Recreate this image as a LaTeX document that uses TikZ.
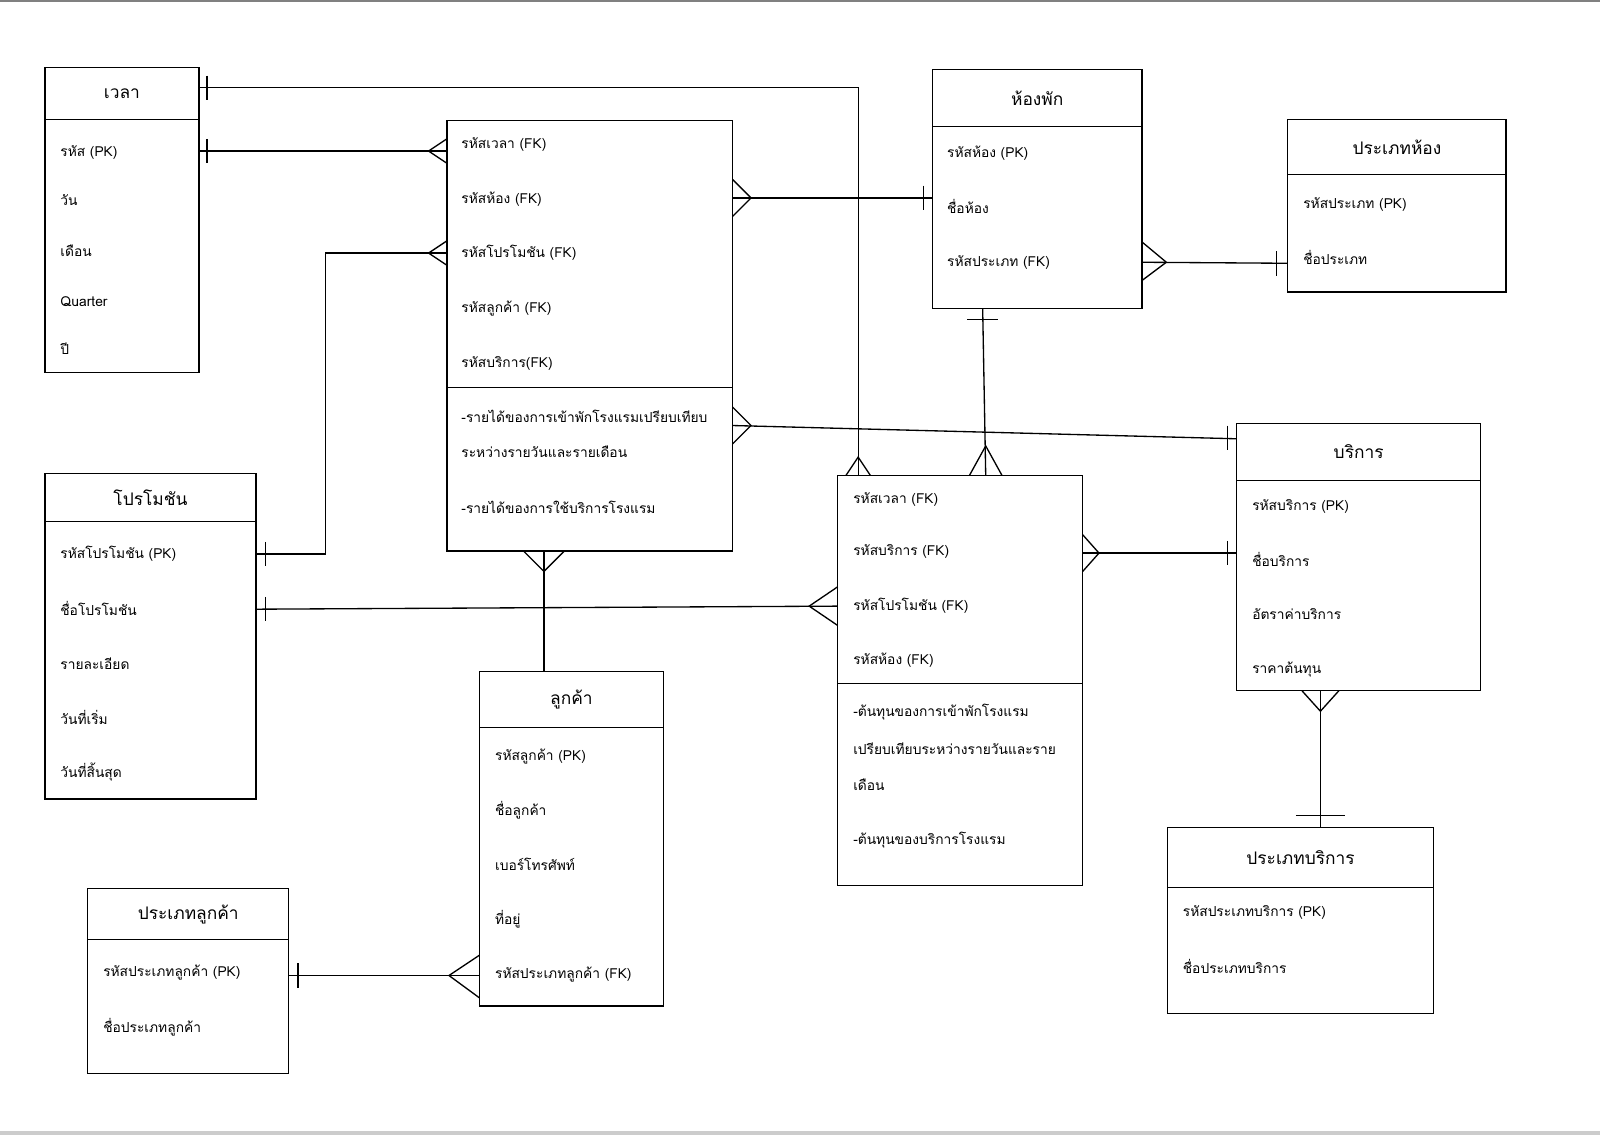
\documentclass[tikz,border=0pt]{standalone}
\usepackage{fontspec}
\newfontfamily\thaifont[Script=Thai]{Loma}
\begin{document}
\begin{tikzpicture}[x=1pt,y=-1pt,
  box/.style={draw,line width=1.3pt},
  hd/.style={font=\thaifont\fontsize{17}{20}\selectfont,anchor=center},
  tx/.style={font=\thaifont\fontsize{13.5}{16}\selectfont,anchor=west,inner sep=0},
  ln/.style={line width=1.3pt}]
\useasboundingbox (0,0) rectangle (1568,1112);
\draw[gray,line width=2pt] (0,1) -- (1568,1);
\fill[gray!40] (0,1108) rectangle (1568,1112);
% boxes
\newcommand{\ent}[7]{% name x1 y1 x2 y2 hline title
  \draw[box] (#2,#3) rectangle (#4,#5);
  \draw[box] (#2,#6) -- (#4,#6);
  \node[hd] (#1) at ({(#2+#4)/2},{(#3+#6)/2}) {#7};}
\ent{t}{44}{66}{195}{365}{117}{เวลา}
\ent{rm}{914}{68}{1119}{302}{124}{ห้องพัก}
\ent{rt}{1262}{117}{1476}{286}{171}{ประเภทห้อง}
\ent{pr}{44}{464}{251}{783}{511}{โปรโมชัน}
\ent{sv}{1212}{415}{1451}{677}{471}{บริการ}
\ent{cu}{470}{658}{650}{986}{713}{ลูกค้า}
\ent{ct}{86}{871}{283}{1052}{921}{ประเภทลูกค้า}
\ent{st}{1144}{811}{1405}{993}{870}{ประเภทบริการ}
\draw[box] (438,118) rectangle (718,540); \draw[box] (438,380)--(718,380);
\draw[box] (821,466) rectangle (1061,868); \draw[box] (821,670)--(1061,670);
% texts
\node[tx] at (59,149) {รหัส (PK)};
\node[tx] at (59,196) {วัน};
\node[tx] at (59,246) {เดือน};
\node[tx] at (59,296) {Quarter};
\node[tx] at (59,342) {ปี};
\node[tx] at (452,142) {รหัสเวลา (FK)};
\node[tx] at (452,195) {รหัสห้อง (FK)};
\node[tx] at (452,248) {รหัสโปรโมชัน (FK)};
\node[tx] at (452,302) {รหัสลูกค้า (FK)};
\node[tx] at (452,356) {รหัสบริการ(FK)};
\node[tx] at (452,408) {-รายได้ของการเข้าพักโรงแรมเปรียบเทียบ};
\node[tx] at (452,443) {ระหว่างรายวันและรายเดือน};
\node[tx] at (452,497) {-รายได้ของการใช้บริการโรงแรม};
\node[tx] at (928,150) {รหัสห้อง (PK)};
\node[tx] at (928,202) {ชื่อห้อง};
\node[tx] at (928,257) {รหัสประเภท (FK)};
\node[tx] at (1277,200) {รหัสประเภท (PK)};
\node[tx] at (1277,252) {ชื่อประเภท};
\node[tx] at (59,543) {รหัสโปรโมชัน (PK)};
\node[tx] at (59,596) {ชื่อโปรโมชัน};
\node[tx] at (59,650) {รายละเอียด};
\node[tx] at (59,703) {วันที่เริ่ม};
\node[tx] at (59,757) {วันที่สิ้นสุด};
\node[tx] at (836,489) {รหัสเวลา (FK)};
\node[tx] at (836,540) {รหัสบริการ (FK)};
\node[tx] at (836,594) {รหัสโปรโมชัน (FK)};
\node[tx] at (836,647) {รหัสห้อง (FK)};
\node[tx] at (836,698) {-ต้นทุนของการเข้าพักโรงแรม};
\node[tx] at (836,734) {เปรียบเทียบระหว่างรายวันและราย};
\node[tx] at (836,769) {เดือน};
\node[tx] at (836,823) {-ต้นทุนของบริการโรงแรม};
\node[tx] at (1227,496) {รหัสบริการ (PK)};
\node[tx] at (1227,548) {ชื่อบริการ};
\node[tx] at (1227,602) {อัตราค่าบริการ};
\node[tx] at (1227,656) {ราคาต้นทุน};
\node[tx] at (485,741) {รหัสลูกค้า (PK)};
\node[tx] at (485,794) {ชื่อลูกค้า};
\node[tx] at (485,847) {เบอร์โทรศัพท์};
\node[tx] at (485,901) {ที่อยู่};
\node[tx] at (485,955) {รหัสประเภทลูกค้า (FK)};
\node[tx] at (101,953) {รหัสประเภทลูกค้า (PK)};
\node[tx] at (101,1007) {ชื่อประเภทลูกค้า};
\node[tx] at (1159,894) {รหัสประเภทบริการ (PK)};
\node[tx] at (1159,947) {ชื่อประเภทบริการ};
% connectors
\begin{scope}[ln]
\draw (195,86) -- (841,86) -- (841,466); \draw (203,74)--(203,98);
\draw (829,466)--(841,448)--(853,466);
\draw (195,148) -- (438,148); \draw (203,136)--(203,160); \draw (438,136)--(420,148)--(438,160);
\draw (718,194) -- (914,194); \draw (718,176)--(736,194)--(718,212); \draw (905,182)--(905,206);
\draw (251,543) -- (319,543) -- (319,248) -- (438,248); \draw (260,531)--(260,555); \draw (438,236)--(420,248)--(438,260);
\draw (718,417) -- (1212,430); \draw (718,399)--(736,417)--(718,435); \draw (1203,417)--(1203,441);
\draw (533,540) -- (533,658); \draw (513,540)--(533,560)--(553,540);
\draw (251,597) -- (821,594); \draw (260,585)--(260,609); \draw (821,575)--(793,594)--(821,613);
\draw (963,302) -- (966,466); \draw (948,313)--(978,313); \draw (950,466)--(966,437)--(982,466);
\draw (1061,542) -- (1212,542); \draw (1061,524)--(1077,542)--(1061,560); \draw (1203,530)--(1203,554);
\draw (1119,257) -- (1262,258); \draw (1119,237)--(1143,257)--(1119,275); \draw (1251,246)--(1251,270);
\draw (1294,677) -- (1294,811); \draw (1276,677)--(1294,697)--(1312,677); \draw (1270,799)--(1318,799);
\draw (283,956) -- (470,956); \draw (292,944)--(292,968); \draw (470,936)--(440,956)--(470,978);
\end{scope}
\end{tikzpicture}
\end{document}
